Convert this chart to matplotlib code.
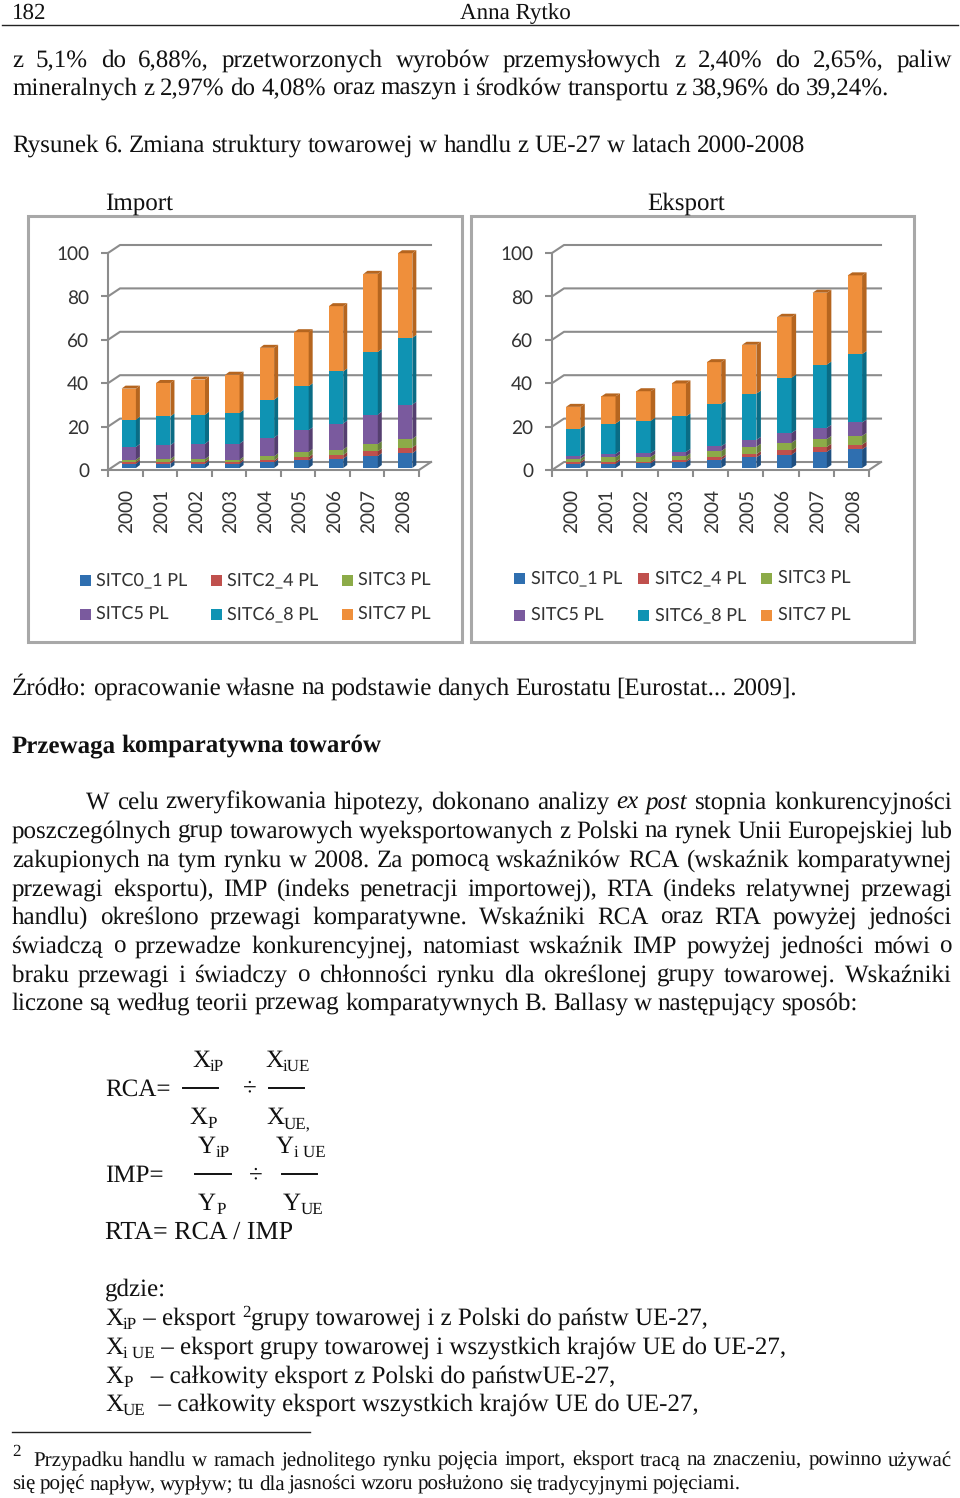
import numpy as np
import matplotlib
matplotlib.use("Agg")
import matplotlib.pyplot as plt
from matplotlib.patches import Rectangle

plt.rcParams["text.hinting"] = "no_hinting"
plt.rcParams["text.hinting_factor"] = 1

years = ["2000", "2001", "2002", "2003", "2004", "2005", "2006", "2007", "2008"]
series = ["SITC0_1 PL", "SITC2_4 PL", "SITC3 PL", "SITC5 PL", "SITC6_8 PL", "SITC7 PL"]
yticks = [0, 20, 40, 60, 80, 100]

# segment heights, bottom to top
imp_sitc0 = [2.0, 2.0, 2.0, 2.0, 2.6, 3.5, 4.3, 5.5, 6.8]
imp_sitc2 = [0.8, 0.9, 0.9, 0.8, 0.9, 1.5, 1.7, 2.2, 2.6]
imp_sitc3 = [1.0, 1.2, 1.2, 1.0, 1.9, 2.4, 2.5, 3.3, 4.0]
imp_sitc5 = [5.9, 6.4, 7.1, 7.4, 8.6, 10.0, 12.0, 13.6, 15.8]
imp_sitc6 = [12.6, 13.3, 13.4, 14.2, 17.5, 20.3, 24.0, 28.9, 30.8]
imp_sitc7 = [14.3, 15.4, 16.2, 17.6, 23.9, 24.9, 30.1, 36.0, 39.0]

exp_sitc0 = [2.0, 2.0, 2.2, 2.8, 3.8, 4.9, 6.2, 7.5, 8.6]
exp_sitc2 = [0.8, 0.9, 0.8, 0.7, 1.1, 1.5, 1.9, 2.3, 2.2]
exp_sitc3 = [1.4, 2.0, 2.1, 1.9, 2.9, 3.4, 3.6, 3.6, 4.0]
exp_sitc5 = [1.2, 1.6, 1.8, 2.0, 2.2, 3.2, 4.5, 5.1, 6.2]
exp_sitc6 = [12.8, 14.0, 14.9, 16.4, 19.4, 21.3, 25.5, 29.2, 31.5]
exp_sitc7 = [10.0, 12.5, 13.6, 15.2, 19.4, 22.5, 28.0, 33.1, 36.3]

colors = ["#2f6fb0", "#c0504d", "#8cab48", "#7a5a9e", "#0f93b3", "#ef8f3b"]
sides = ["#1f4f80", "#8c3a38", "#66803a", "#553f70", "#0a6c85", "#b5651f"]
grey = "#8c8c8c"

page_lines = [
    ("z 5,1% do 6,88%, przetworzonych wyrobów przemysłowych z 2,40% do 2,65%, paliw", 12, 952, 67),
    ("mineralnych z 2,97% do 4,08% oraz maszyn i środków transportu z 38,96% do 39,24%.", 12, 889, 95),
    ("Rysunek 6. Zmiana struktury towarowej w handlu z UE-27 w latach 2000-2008", 12, 805, 152),
    ("Źródło: opracowanie własne na podstawie danych Eurostatu [Eurostat... 2009].", 12, 797, 695),
    ("W celu zweryfikowania hipotezy, dokonano analizy ex post stopnia konkurencyjności", 86, 952, 809),
    ("poszczególnych grup towarowych wyeksportowanych z Polski na rynek Unii Europejskiej lub", 12, 952, 838),
    ("zakupionych na tym rynku w 2008. Za pomocą wskaźników RCA (wskaźnik komparatywnej", 12, 952, 867),
    ("przewagi eksportu), IMP (indeks penetracji importowej), RTA (indeks relatywnej przewagi", 12, 952, 896),
    ("handlu) określono przewagi komparatywne.  Wskaźniki RCA oraz RTA powyżej jedności", 12, 952, 924),
    ("świadczą o przewadze konkurencyjnej, natomiast wskaźnik IMP powyżej jedności mówi o", 12, 952, 953),
    ("braku przewagi i świadczy o chłonności rynku dla określonej grupy towarowej. Wskaźniki", 12, 952, 982),
    ("liczone są według teorii przewag komparatywnych B. Ballasy w następujący sposób:", 12, 858, 1010),
]
foot_lines = [
    ("Przypadku handlu w ramach jednolitego rynku pojęcia import, eksport tracą na znaczeniu, powinno używać", 33, 952, 1466),
    ("się pojęć napływ, wypływ; tu dla jasności wzoru posłużono się tradycyjnymi pojęciami.", 12, 741, 1490),
]

SERIF = "Liberation Serif"
BODY = 18
LIST = 17.8
SUB = 12.5

fig = plt.figure(figsize=(9.6, 14.98), dpi=100, facecolor="white")
bg = fig.add_axes([0, 0, 1, 1])
bg.set_xlim(0, 960)
bg.set_ylim(1498, 0)
bg.axis("off")
rend = fig.canvas.get_renderer()


def put(x, y, s, size=BODY, **kw):
    return bg.text(x, y, s, fontsize=size, family=SERIF, va="baseline", ha="left", color="#111111", **kw)


def width(t):
    return t.get_window_extent(rend).width


def justified(s, x0, x1, y, size=BODY, italic=(), **kw):
    # spread the words of one line between its two edges
    words = s.split()
    items = []
    for w in words:
        st = "italic" if w in italic else "normal"
        items.append(put(x0, y, w, size, style=st, **kw))
    ws = [width(t) for t in items]
    gap = (x1 - x0 - sum(ws)) / (len(words) - 1)
    x = x0
    for t, w in zip(items, ws):
        t.set_x(x)
        x += w + gap


def runs(x, y, parts):
    # text pieces side by side: (text, size, rise)
    for s, size, rise in parts:
        t = put(x, y - rise, s, size)
        x += width(t)


def panel(left, right, top, bottom):
    bg.add_patch(Rectangle((left, top), right - left, bottom - top, fill=False, ec="#a8a8a8", lw=2.2))


def chart(box, stacks, shift, barw, depth):
    # box is left, right, top, bottom of the front axes in pixels
    l, r, t, b = box
    ax = fig.add_axes([l / 960, 1 - b / 1498, (r - l) / 960, (b - t) / 1498])
    ax.set_xlim(0, 9)
    ax.set_ylim(0, 100)
    ax.patch.set_alpha(0)
    dx = 12 / ((r - l) / 9)
    dy = 8 / ((b - t) / 100)
    for v in yticks:
        ax.plot([0, dx, 9 + dx], [v, v + dy, v + dy], color=grey, lw=1.5, clip_on=False, zorder=1)
    ax.plot([9, 9 + dx], [0, dy], color=grey, lw=1.5, clip_on=False, zorder=1)
    xs = np.arange(9) + 0.5 + shift
    lift = 0.9
    base = np.zeros(9) + lift
    bx = depth[0] / ((r - l) / 9)
    by = depth[1] / ((b - t) / 100)
    for vals, c, sc in zip(stacks, colors, sides):
        vals = np.array(vals)
        ax.bar(xs, vals, barw, bottom=base, color=c, zorder=3, clip_on=False)
        for x, b0, h in zip(xs, base, vals):
            e = x + barw / 2
            ax.fill([e, e + bx, e + bx, e], [b0, b0 + by, b0 + h + by, b0 + h], color=sc, lw=0, zorder=3, clip_on=False)
        base = base + vals
    for x, top in zip(xs, base):
        s = x - barw / 2
        e = x + barw / 2
        ax.fill([s, e, e + bx, s + bx], [top, top, top + by, top + by], color=sides[5], lw=0, zorder=3, clip_on=False)
    for side in ["top", "right"]:
        ax.spines[side].set_visible(False)
    for side in ["left", "bottom"]:
        ax.spines[side].set_color(grey)
        ax.spines[side].set_linewidth(1.5)
        ax.spines[side].set_zorder(2)
    ax.set_yticks(yticks)
    ax.set_yticklabels([str(v) for v in yticks], family="Lato", fontsize=14, color="#333333", va="center_baseline")
    ax.tick_params(axis="y", length=5, width=1.5, color=grey, pad=8.5)
    ax.set_xticks(np.arange(10))
    ax.set_xticklabels([])
    ax.set_xticks(np.arange(9) + 0.55, minor=True)
    ax.set_xticklabels(years, minor=True, rotation=90, family="Lato", fontsize=13.5, color="#333333")
    ax.tick_params(axis="x", which="major", length=5, width=1.5, color=grey)
    ax.tick_params(axis="x", which="minor", length=0, pad=13.5)
    return ax


def legend(xs, rows, text_off):
    for i, name in enumerate(series):
        x = xs[i % 3]
        y = rows[i // 3]
        bg.add_patch(Rectangle((x, y - 5.5), 11, 11, color=colors[i], lw=0))
        bg.text(x + text_off, y, name, family="Lato", fontsize=13.3, color="#333333", va="center", ha="left")


# header
put(12, 19, "182", 16.5)
put(460, 19, "Anna Rytko", 16.5)
bg.plot([2, 958], [25, 25], color="#222222", lw=1)

for s, x0, x1, y in page_lines:
    justified(s, x0, x1, y, italic=("ex", "post"))

put(105, 210, "Import")
put(647, 210, "Eksport")
justified("Przewaga komparatywna towarów", 12, 382, 752, weight="bold")

panel(28, 462, 216, 642)
panel(471, 914, 216, 642)
imports = [imp_sitc0, imp_sitc2, imp_sitc3, imp_sitc5, imp_sitc6, imp_sitc7]
exports = [exp_sitc0, exp_sitc2, exp_sitc3, exp_sitc5, exp_sitc6, exp_sitc7]
chart((108, 419, 253, 470), imports, 0.1, 14.3 / 34.5, (4, 3))
chart((552, 869, 253, 470), exports, 0.1, 14.3 / 35.2, (4.5, 3))
legend([80, 211, 342], [580, 614], 16)
legend([514, 638, 761], [578, 615], 17)

# formulas
runs(192, 1067, [("X", BODY, 0), ("iP", SUB, -4)])
runs(265, 1067, [("X", BODY, 0), ("iUE", SUB, -4)])
runs(105, 1096, [("RCA=", BODY, 0)])
runs(189, 1124, [("X", BODY, 0), ("P", SUB, -4)])
runs(266, 1124, [("X", BODY, 0), ("UE,", SUB, -4)])
runs(198, 1153, [("Y", BODY, 0), ("iP", SUB, -4)])
runs(276, 1153, [("Y", BODY, 0), ("i UE", SUB, -4)])
runs(105, 1182, [("IMP=", BODY, 0)])
runs(198, 1210, [("Y", BODY, 0), ("P", SUB, -4)])
runs(283, 1210, [("Y", BODY, 0), ("UE", SUB, -4)])
runs(105, 1239, [("RTA= RCA / IMP", 18.4, 0)])
for x0, x1, y in [(183, 218, 1088), (269, 304, 1088), (195, 231, 1174), (282, 317, 1174)]:
    bg.plot([x0, x1], [y, y], color="#111111", lw=1.4)
put(243, 1094, "÷")
put(249, 1181, "÷")

put(105, 1296, "gdzie:", LIST)
runs(105, 1325, [("X", LIST, 0), ("iP", SUB, -4), (" – eksport ", LIST, 0), ("2", SUB, 8),
                 ("grupy towarowej i z Polski do państw UE-27,", LIST, 0)])
runs(105, 1354, [("X", LIST, 0), ("i UE", SUB, -4), (" – eksport grupy towarowej i wszystkich krajów UE do UE-27,", LIST, 0)])
runs(105, 1383, [("X", LIST, 0), ("P", SUB, -4), ("   – całkowity eksport z Polski do państwUE-27,", LIST, 0)])
runs(105, 1411, [("X", LIST, 0), ("UE", SUB, -4), ("  – całkowity eksport wszystkich krajów UE do UE-27,", LIST, 0)])

bg.plot([12, 310], [1432, 1432], color="#222222", lw=1)
put(12, 1456, "2", SUB)
for s, x0, x1, y in foot_lines:
    justified(s, x0, x1, y, size=15)

fig.savefig("out.png", dpi=100)
